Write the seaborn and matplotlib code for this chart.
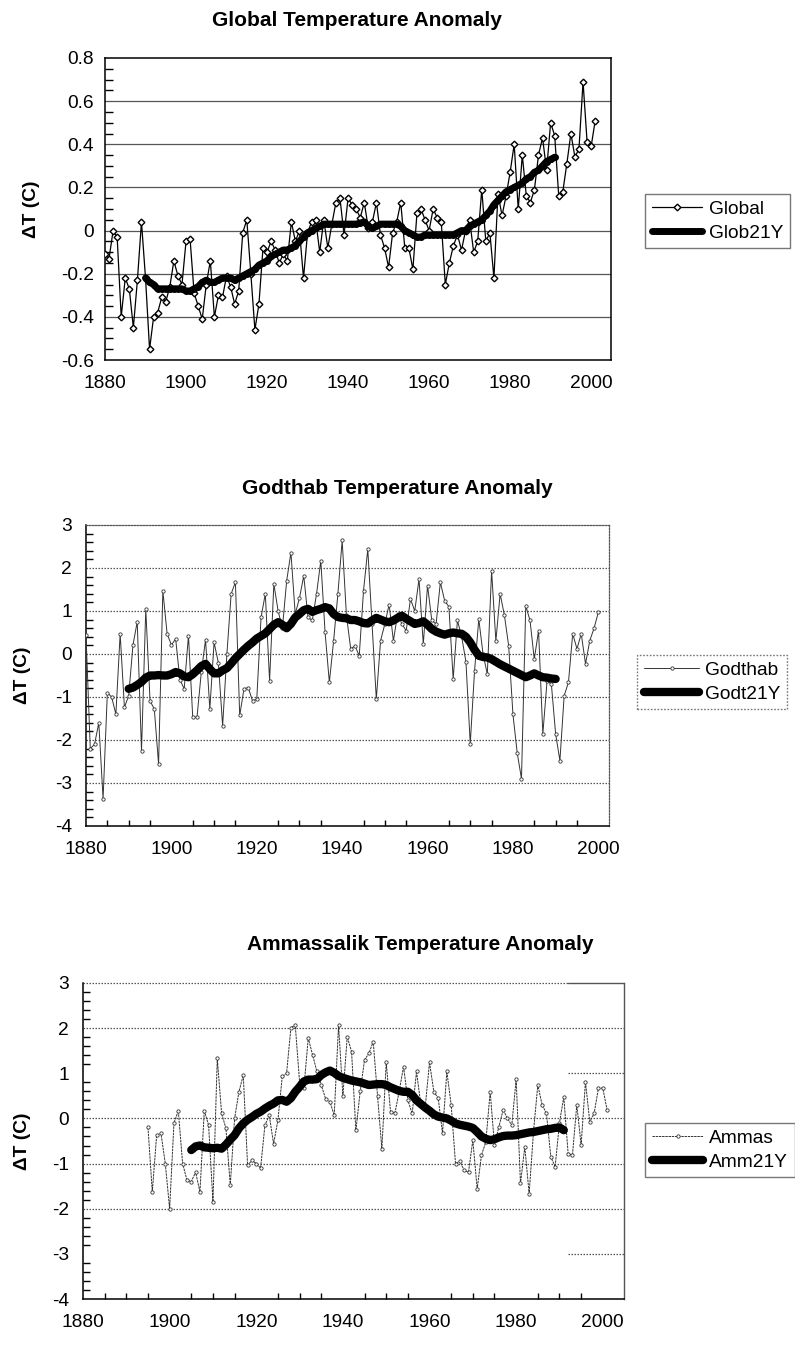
import numpy as np
import matplotlib
matplotlib.use("Agg")
import matplotlib.pyplot as plt
from matplotlib.ticker import MultipleLocator
import seaborn as sns

# ---------------- data ----------------
global_start = 1880
global_vals = [-0.11, -0.13, 0.00, -0.03, -0.40, -0.22, -0.27, -0.45, -0.23, 0.04,
               -0.22, -0.55, -0.40, -0.38, -0.31, -0.33, -0.26, -0.14, -0.21, -0.25,
               -0.05, -0.04, -0.29, -0.35, -0.41, -0.25, -0.14, -0.40, -0.30, -0.31,
               -0.21, -0.26, -0.34, -0.28, -0.01, 0.05, -0.20, -0.46, -0.34, -0.08,
               -0.10, -0.05, -0.09, -0.15, -0.11, -0.14, 0.04, -0.05, 0.00, -0.22,
               -0.01, 0.04, 0.05, -0.10, 0.05, -0.08, 0.03, 0.13, 0.15, -0.02,
               0.15, 0.12, 0.10, 0.06, 0.13, 0.01, 0.04, 0.13, -0.02, -0.08,
               -0.17, -0.01, 0.04, 0.13, -0.08, -0.08, -0.18, 0.08, 0.10, 0.05,
               0.00, 0.10, 0.06, 0.04, -0.25, -0.15, -0.07, -0.02, -0.09, 0.00,
               0.05, -0.10, -0.05, 0.19, -0.05, -0.01, -0.22, 0.17, 0.07, 0.16,
               0.27, 0.40, 0.10, 0.35, 0.16, 0.13, 0.19, 0.35, 0.43, 0.28,
               0.50, 0.44, 0.16, 0.18, 0.31, 0.45, 0.34, 0.38, 0.69, 0.41,
               0.39, 0.51]
glob21_start = 1890
glob21_vals = [-0.22, -0.24, -0.25, -0.27, -0.27, -0.27, -0.27, -0.27, -0.27, -0.27,
               -0.28, -0.28, -0.27, -0.26, -0.24, -0.23, -0.24, -0.24, -0.23, -0.22,
               -0.22, -0.22, -0.23, -0.22, -0.21, -0.20, -0.19, -0.18, -0.16, -0.15,
               -0.14, -0.12, -0.11, -0.10, -0.09, -0.09, -0.08, -0.07, -0.05, -0.03,
               -0.01, 0.00, 0.01, 0.02, 0.03, 0.03, 0.03, 0.03, 0.03, 0.03,
               0.03, 0.03, 0.03, 0.035, 0.04, 0.02, 0.01, 0.02, 0.03, 0.03,
               0.03, 0.03, 0.03, 0.02, 0.00, -0.01, -0.02, -0.03, -0.03, -0.02,
               -0.02, -0.02, -0.02, -0.02, -0.02, -0.02, -0.02, -0.01, 0.00, 0.00,
               0.02, 0.03, 0.04, 0.05, 0.07, 0.09, 0.12, 0.14, 0.16, 0.18,
               0.19, 0.20, 0.21, 0.22, 0.24, 0.25, 0.27, 0.28, 0.30, 0.32,
               0.33, 0.34]

godthab_start = 1880
godthab_vals = [0.45, -2.20, -2.10, -1.60, -3.37, -0.90, -1.00, -1.40, 0.47, -1.24,
                -0.97, 0.21, 0.75, -2.25, 1.05, -1.09, -1.28, -2.56, 1.47, 0.47,
                0.21, 0.35, -0.60, -0.81, 0.43, -1.47, -1.47, -0.43, 0.33, -1.28,
                0.27, -0.20, -1.67, 0.00, 1.40, 1.67, -1.43, -0.81, -0.78, -1.09,
                -1.05, 0.85, 1.40, -0.62, 1.63, 1.00, 0.60, 1.70, 2.36, 0.93,
                1.30, 1.82, 0.85, 0.78, 1.40, 2.17, 0.50, -0.66, 0.31, 1.40,
                2.64, 0.90, 0.12, 0.19, -0.04, 1.47, 2.44, 0.70, -1.05, 0.31,
                0.70, 1.15, 0.31, 0.93, 0.70, 0.54, 1.28, 1.00, 1.74, 0.23,
                1.59, 0.78, 0.70, 1.67, 1.24, 1.10, -0.58, 0.78, 0.40, -0.19,
                -2.09, -0.40, 0.81, 0.00, -0.47, 1.94, 0.30, 1.40, 0.90, 0.19,
                -1.40, -2.30, -2.90, 1.12, 0.78, -0.12, 0.54, -1.86, -0.62, -0.70,
                -1.86, -2.48, -0.97, -0.66, 0.47, 0.12, 0.47, -0.23, 0.31, 0.60,
                0.97]
godt21_start = 1890
godt21_vals = [-0.81, -0.78, -0.72, -0.65, -0.55, -0.50, -0.50, -0.49, -0.50, -0.50,
               -0.47, -0.42, -0.45, -0.52, -0.54, -0.47, -0.38, -0.28, -0.23, -0.35,
               -0.45, -0.45, -0.38, -0.33, -0.22, -0.10, 0.00, 0.10, 0.19, 0.27,
               0.36, 0.42, 0.48, 0.58, 0.68, 0.74, 0.68, 0.60, 0.70, 0.85,
               0.93, 1.02, 1.05, 0.98, 1.02, 1.05, 1.09, 1.06, 0.93, 0.86,
               0.84, 0.83, 0.79, 0.79, 0.76, 0.72, 0.71, 0.78, 0.84, 0.80,
               0.76, 0.74, 0.78, 0.84, 0.89, 0.82, 0.76, 0.70, 0.72, 0.76,
               0.68, 0.58, 0.52, 0.48, 0.45, 0.48, 0.50, 0.48, 0.47, 0.40,
               0.27, 0.10, -0.04, -0.07, -0.08, -0.12, -0.18, -0.24, -0.29, -0.34,
               -0.39, -0.44, -0.49, -0.54, -0.50, -0.45, -0.50, -0.54, -0.55, -0.57,
               -0.58]

ammas_start = 1895
ammas_vals = [-0.20, -1.63, -0.37, -0.33, -1.00, -2.00, -0.10, 0.17, -1.00, -1.37,
              -1.40, -1.19, -1.63, 0.17, -0.15, -1.85, 1.33, 0.11, -0.22, -1.48,
              0.00, 0.59, 0.96, -1.04, -0.93, -1.00, -1.10, -0.15, 0.07, -0.56,
              -0.04, 0.93, 1.00, 2.01, 2.07, 0.81, 0.67, 1.78, 1.41, 1.04,
              0.74, 0.44, 0.37, 0.07, 2.07, 0.50, 1.81, 1.48, -0.26, 0.60,
              1.30, 1.44, 1.70, 0.50, -0.68, 1.24, 0.15, 0.11, 0.60, 1.15,
              0.40, 0.11, 1.04, 0.30, 0.25, 1.24, 0.59, 0.45, -0.33, 1.04,
              0.30, -1.00, -0.95, -1.15, -1.19, -0.48, -1.56, -0.81, -0.52, 0.59,
              -0.59, -0.19, 0.19, 0.00, -0.15, 0.87, -1.44, -0.63, -1.67, -0.30,
              0.74, 0.30, 0.11, -0.85, -1.07, -0.10, 0.48, -0.78, -0.81, 0.30,
              -0.59, 0.81, -0.07, 0.11, 0.67, 0.67, 0.19]
amm21_start = 1905
amm21_vals = [-0.70, -0.62, -0.60, -0.64, -0.65, -0.66, -0.65, -0.67, -0.58, -0.47,
              -0.37, -0.22, -0.11, -0.03, 0.03, 0.10, 0.15, 0.22, 0.28, 0.33,
              0.40, 0.41, 0.37, 0.45, 0.59, 0.70, 0.82, 0.86, 0.86, 0.87,
              0.96, 1.02, 1.06, 1.01, 0.94, 0.90, 0.87, 0.84, 0.82, 0.80,
              0.77, 0.74, 0.75, 0.76, 0.76, 0.74, 0.69, 0.65, 0.61, 0.59,
              0.59, 0.52, 0.40, 0.32, 0.24, 0.17, 0.09, 0.04, 0.02, 0.00,
              -0.05, -0.11, -0.14, -0.16, -0.18, -0.21, -0.30, -0.40, -0.45, -0.48,
              -0.46, -0.42, -0.39, -0.38, -0.38, -0.37, -0.35, -0.33, -0.31, -0.30,
              -0.28, -0.26, -0.24, -0.23, -0.21, -0.20, -0.26]

x_ticks = [1880, 1900, 1920, 1940, 1960, 1980, 2000]
x_tick_labels = ["1880", "1900", "1920", "1940", "1960", "1980", "2000"]
y1_ticks = [0.8, 0.6, 0.4, 0.2, 0.0, -0.2, -0.4, -0.6]
y1_tick_labels = ["0.8", "0.6", "0.4", "0.2", "0", "-0.2", "-0.4", "-0.6"]
y2_ticks = [3, 2, 1, 0, -1, -2, -3, -4]
y2_tick_labels = ["3", "2", "1", "0", "-1", "-2", "-3", "-4"]

titles = ["Global Temperature Anomaly", "Godthab Temperature Anomaly",
          "Ammassalik Temperature Anomaly"]
ylabel = "\u0394T (C)"


def yrs(start, vals):
    return np.arange(start, start + len(vals))


# ---------------- style ----------------
sns.set_theme(style="white")
plt.rcParams["font.family"] = ["Liberation Sans", "DejaVu Sans"]
plt.rcParams["axes.linewidth"] = 1.0
for key in ["text.color", "axes.labelcolor", "xtick.color", "ytick.color"]:
    plt.rcParams[key] = "black"

W, H = 795, 1351
fig = plt.figure(figsize=(W / 100, H / 100), dpi=100)
fig.patch.set_facecolor("white")


def px_axes(left, right, top, bottom):
    return fig.add_axes([left / W, 1 - bottom / H, (right - left) / W, (bottom - top) / H])


TICK_FS = 13.8
TITLE_FS = 15

# ---------------- Panel 1 ----------------
ax1 = px_axes(105, 611, 58, 360)
ax1.set_facecolor("white")
ax1.set_xlim(1880, 2004.9)
ax1.set_ylim(-0.6, 0.8)
for v in [0.6, 0.4, 0.2, 0.0, -0.2, -0.4]:
    ax1.axhline(v, color="#555555", lw=0.9, zorder=0)
sns.lineplot(x=yrs(global_start, global_vals), y=global_vals, ax=ax1, color="black",
             lw=0.9, marker="D", markersize=3.4, markerfacecolor="white",
             markeredgecolor="black", markeredgewidth=1.0, label="Global", zorder=3)
sns.lineplot(x=yrs(glob21_start, glob21_vals), y=glob21_vals, ax=ax1, color="black",
             lw=5, marker="o", markersize=5, markeredgewidth=0, label="Glob21Y", zorder=4)
ax1.set_xticks(x_ticks)
ax1.set_xticklabels(x_tick_labels, fontsize=TICK_FS)
ax1.set_yticks(y1_ticks)
ax1.set_yticklabels(y1_tick_labels, fontsize=TICK_FS)
ax1.yaxis.set_minor_locator(MultipleLocator(0.05))
ax1.tick_params(axis="x", which="major", direction="out", length=6, width=1, pad=5)
ax1.tick_params(axis="y", which="major", direction="out", length=6, width=1, pad=2)
ax1.tick_params(axis="y", which="minor", direction="in", length=6, width=1, left=True)
for s in ax1.spines.values():
    s.set_color("black")
    s.set_linewidth(1.1)
ax1.set_xlabel("")
ax1.set_ylabel(ylabel, fontsize=13.8, fontweight="bold")
ax1.yaxis.set_label_coords(-0.128, 0.5)
leg = ax1.legend(loc="center left", bbox_to_anchor=(645 / W, 1 - 221 / H),
                 bbox_transform=fig.transFigure, fontsize=13.8, frameon=True,
                 fancybox=False, handlelength=2.6, handletextpad=0.4,
                 borderpad=0.35, labelspacing=0.35, borderaxespad=0)
leg.get_frame().set_edgecolor("#555555")
leg.get_frame().set_linewidth(1.0)

# ---------------- Panel 2 ----------------
ax2 = px_axes(86, 609, 525, 826)
ax2.set_facecolor("white")
ax2.set_xlim(1880, 2002.5)
ax2.set_ylim(-4, 3)
for v in [2, 1, 0, -1, -2, -3]:
    ax2.axhline(v, color="#555555", lw=0.9, ls=(0, (1.2, 1.2)), zorder=0)
sns.lineplot(x=yrs(godthab_start, godthab_vals), y=godthab_vals, ax=ax2, color="#333333",
             lw=0.7, marker="o", markersize=2.4, markerfacecolor="white",
             markeredgecolor="#333333", markeredgewidth=0.6, label="Godthab", zorder=3)
sns.lineplot(x=yrs(godt21_start, godt21_vals), y=godt21_vals, ax=ax2, color="black",
             lw=6, label="Godt21Y", zorder=4, solid_capstyle="round")
ax2.set_xticks(x_ticks)
ax2.set_xticklabels(x_tick_labels, fontsize=TICK_FS)
ax2.set_yticks(y2_ticks)
ax2.set_yticklabels(y2_tick_labels, fontsize=TICK_FS)
ax2.xaxis.set_minor_locator(MultipleLocator(5))
ax2.yaxis.set_minor_locator(MultipleLocator(0.2))
ax2.tick_params(axis="x", which="major", direction="inout", length=10, width=1, pad=6)
ax2.tick_params(axis="x", which="minor", direction="in", length=4, width=1, bottom=True)
ax2.tick_params(axis="y", which="major", direction="out", length=6, width=1, pad=4)
ax2.tick_params(axis="y", which="minor", direction="in", length=5, width=1, left=True)
for k in ["left", "bottom"]:
    ax2.spines[k].set_color("black")
    ax2.spines[k].set_linewidth(1.1)
for k in ["top", "right"]:
    ax2.spines[k].set_color("#555555")
    ax2.spines[k].set_linestyle((0, (1.2, 1.2)))
    ax2.spines[k].set_linewidth(0.9)
ax2.set_xlabel("")
ax2.set_ylabel(ylabel, fontsize=13.8, fontweight="bold")
ax2.yaxis.set_label_coords(-0.105, 0.5)
leg2 = ax2.legend(loc="center left", bbox_to_anchor=(637 / W, 1 - 682 / H),
                  bbox_transform=fig.transFigure, fontsize=13.8, frameon=True,
                  fancybox=False, handlelength=2.9, handletextpad=0.3,
                  borderpad=0.35, labelspacing=0.35, borderaxespad=0)
leg2.get_frame().set_edgecolor("#555555")
leg2.get_frame().set_linestyle((0, (1.2, 1.2)))
leg2.get_frame().set_linewidth(1.0)

# ---------------- Panel 3 ----------------
ax3 = px_axes(83, 624, 983, 1299)
ax3.set_facecolor("white")
ax3.set_xlim(1880, 2004.9)
ax3.set_ylim(-4, 3)
for v in [2, 0, -1, -2]:
    ax3.axhline(v, color="#555555", lw=0.9, ls=(0, (1.2, 1.2)), zorder=0)
for v in [1, -3]:
    ax3.axhline(v, xmin=0.896, xmax=1.0, color="#555555", lw=0.9,
                ls=(0, (1.2, 1.2)), zorder=0)
ax3.axhline(3, xmin=0.0, xmax=0.896, color="#555555", lw=0.9,
            ls=(0, (1.2, 1.2)), zorder=0, clip_on=False)
ax3.axhline(3, xmin=0.896, xmax=1.0, color="#555555", lw=1.0, zorder=0, clip_on=False)
sns.lineplot(x=yrs(ammas_start, ammas_vals), y=ammas_vals, ax=ax3, color="#333333",
             lw=0.7, ls=(0, (2.5, 0.8)), marker="o", markersize=2.4,
             markerfacecolor="white", markeredgecolor="#333333",
             markeredgewidth=0.6, label="Ammas", zorder=3)
sns.lineplot(x=yrs(amm21_start, amm21_vals), y=amm21_vals, ax=ax3, color="black",
             lw=6, label="Amm21Y", zorder=4, solid_capstyle="round")
ax3.set_xticks(x_ticks)
ax3.set_xticklabels(x_tick_labels, fontsize=TICK_FS)
ax3.set_yticks(y2_ticks)
ax3.set_yticklabels(y2_tick_labels, fontsize=TICK_FS)
ax3.xaxis.set_minor_locator(MultipleLocator(5))
ax3.yaxis.set_minor_locator(MultipleLocator(0.2))
ax3.tick_params(axis="x", which="major", direction="inout", length=10, width=1, pad=6)
ax3.tick_params(axis="x", which="minor", direction="in", length=4, width=1, bottom=True)
ax3.tick_params(axis="y", which="major", direction="out", length=6, width=1, pad=4)
ax3.tick_params(axis="y", which="minor", direction="in", length=5, width=1, left=True)
for k in ["left", "bottom"]:
    ax3.spines[k].set_color("black")
    ax3.spines[k].set_linewidth(1.1)
ax3.spines["top"].set_visible(False)
ax3.spines["right"].set_color("#555555")
ax3.spines["right"].set_linewidth(1.0)
ax3.set_xlabel("")
ax3.set_ylabel(ylabel, fontsize=13.8, fontweight="bold")
ax3.yaxis.set_label_coords(-0.097, 0.5)
leg3 = ax3.legend(loc="center left", bbox_to_anchor=(645 / W, 1 - 1150 / H),
                  bbox_transform=fig.transFigure, fontsize=13.8, frameon=True,
                  fancybox=False, handlelength=2.7, handletextpad=0.3,
                  borderpad=0.35, labelspacing=0.35, borderaxespad=0)
leg3.get_frame().set_edgecolor("#555555")
leg3.get_frame().set_linewidth(1.0)

# ---------------- titles ----------------
fig.text(357 / W, 1 - 20 / H, titles[0], ha="center", va="center",
         fontsize=TITLE_FS, fontweight="bold")
fig.text(397 / W, 1 - 488 / H, titles[1], ha="center", va="center",
         fontsize=TITLE_FS, fontweight="bold")
fig.text(420 / W, 1 - 945 / H, titles[2], ha="center", va="center",
         fontsize=TITLE_FS, fontweight="bold")

fig.savefig("out.png", dpi=100, facecolor="white")
